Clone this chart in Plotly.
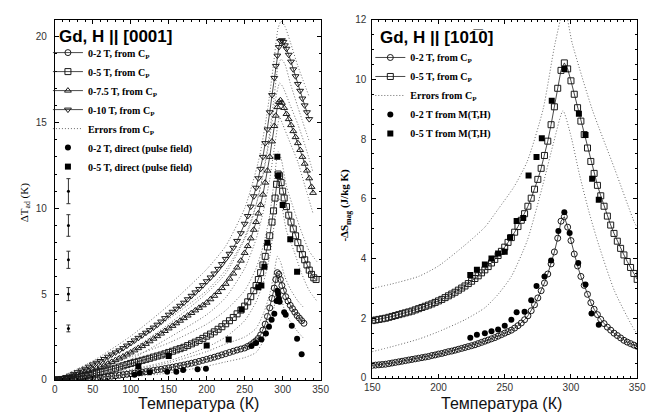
import plotly.graph_objects as go

W, H = 653, 419


def fx(p):
    """pixel column -> paper x"""
    return p / W


def fy(p):
    """pixel row -> paper y"""
    return 1 - p / H


# ------------------------------------------------------------------
# Left panel: adiabatic temperature change of Gd, H || [0001]
# ------------------------------------------------------------------
T_LOW = list(range(0, 251, 5))  # 0 ... 250 K

dT2_low = [0, 0.005, 0.01, 0.02, 0.03, 0.04, 0.05, 0.065, 0.08, 0.095,
           0.11, 0.13, 0.15, 0.17, 0.19, 0.215, 0.24, 0.27, 0.3, 0.33,
           0.36, 0.39, 0.42, 0.45, 0.48, 0.515, 0.55, 0.585, 0.62, 0.66,
           0.7, 0.74, 0.78, 0.825, 0.87, 0.92, 0.97, 1.02, 1.08, 1.14,
           1.2, 1.26, 1.32, 1.39, 1.46, 1.53, 1.6, 1.67, 1.74, 1.8,
           1.86]
T2_hi = [254, 258, 262, 265, 268, 271, 274, 277, 280, 283, 286, 289, 291, 293,
         295, 297, 299, 301, 304, 307, 310, 313, 316, 319, 322, 325, 328]
dT2_hi = [1.95, 2.05, 2.18, 2.28, 2.42, 2.62, 2.9, 3.25, 3.7, 4.2, 4.75, 5.35,
          5.85, 6.25, 6.15, 5.85, 5.5, 5.2, 4.85, 4.6, 4.35, 4.15, 3.95, 3.75,
          3.6, 3.45, 3.3]

dT5_low = [0, 0.01, 0.025, 0.05, 0.08, 0.11, 0.15, 0.2, 0.25, 0.3,
           0.35, 0.4, 0.45, 0.5, 0.56, 0.62, 0.68, 0.75, 0.82, 0.89,
           0.96, 1.02, 1.08, 1.14, 1.2, 1.26, 1.33, 1.39, 1.45, 1.52,
           1.6, 1.67, 1.75, 1.82, 1.9, 2.0, 2.1, 2.2, 2.3, 2.42,
           2.55, 2.67, 2.8, 2.95, 3.1, 3.27, 3.45, 3.64, 3.85, 4.07,
           4.3]
T5_hi = [254, 258, 262, 265, 268, 271, 274, 277, 280, 283, 286, 288, 290, 292,
         294, 296, 298, 300, 302, 305, 308, 311, 314, 317, 320, 323, 326, 329,
         332, 335, 338, 341, 344]
dT5_hi = [4.55, 4.85, 5.2, 5.5, 5.85, 6.25, 6.7, 7.2, 7.75, 8.4, 9.2, 9.85,
          10.6, 11.4, 12.0, 11.9, 11.5, 11.0, 10.6, 10.1, 9.6, 9.2, 8.8, 8.4,
          8.0, 7.65, 7.3, 7.0, 6.7, 6.4, 6.15, 5.95, 5.85]

dT75_low = [0, 0.02, 0.06, 0.1, 0.15, 0.22, 0.3, 0.37, 0.45, 0.52,
            0.6, 0.68, 0.76, 0.85, 0.95, 1.05, 1.15, 1.25, 1.36, 1.48,
            1.6, 1.72, 1.85, 1.97, 2.1, 2.25, 2.4, 2.55, 2.7, 2.85,
            3.0, 3.15, 3.3, 3.45, 3.6, 3.75, 3.9, 4.05, 4.2, 4.35,
            4.5, 4.7, 4.9, 5.12, 5.35, 5.6, 5.9, 6.2, 6.55, 6.95,
            7.4]
T75_hi = [254, 258, 262, 265, 268, 271, 274, 277, 280, 283, 286, 289, 291, 293,
          295, 297, 299, 302, 305, 308, 311, 314, 317, 320, 323, 326, 329, 332,
          335, 338, 340]
dT75_hi = [7.8, 8.25, 8.75, 9.2, 9.7, 10.2, 10.8, 11.5, 12.2, 13.0, 13.9, 14.8,
           15.4, 15.9, 16.2, 16.3, 16.15, 15.85, 15.5, 15.2, 14.85, 14.5, 14.15,
           13.8, 13.4, 13.0, 12.6, 12.2, 11.75, 11.25, 10.9]

dT10_low = [0, 0.04, 0.1, 0.17, 0.25, 0.35, 0.45, 0.55, 0.65, 0.77,
            0.9, 1.0, 1.1, 1.22, 1.35, 1.48, 1.6, 1.72, 1.85, 2.0,
            2.15, 2.3, 2.45, 2.6, 2.75, 2.9, 3.05, 3.22, 3.4, 3.6,
            3.8, 3.97, 4.15, 4.32, 4.5, 4.7, 4.9, 5.1, 5.3, 5.52,
            5.75, 5.97, 6.2, 6.47, 6.75, 7.05, 7.35, 7.7, 8.1, 8.55,
            9.1]
T10_hi = [254, 258, 262, 265, 268, 271, 274, 277, 280, 283, 286, 289, 291, 293,
          295, 297, 299, 301, 303, 305, 308, 311, 314, 317, 320, 323, 326, 329,
          332, 335]
dT10_hi = [9.55, 10.1, 10.7, 11.2, 11.75, 12.3, 13.0, 13.8, 14.6, 15.6, 16.6,
           17.6, 18.3, 18.9, 19.4, 19.75, 19.8, 19.7, 19.5, 19.3, 18.95, 18.55,
           18.1, 17.7, 17.25, 16.85, 16.4, 16.0, 15.6, 15.2]

# error envelopes of the Cp-derived curves
E2_T = [0, 50, 100, 150, 200, 225, 250, 265, 275, 283, 289, 293, 297, 303, 310, 320, 328]
E2_up = [0, 0.2, 0.55, 1.0, 1.65, 2.1, 2.5, 3.0, 3.9, 5.0, 6.3, 7.2, 6.9, 6.0, 5.3, 4.6, 4.2]
E2_lo = [0, 0.03, 0.18, 0.4, 0.8, 1.05, 1.3, 1.6, 2.3, 3.2, 4.3, 5.3, 4.9, 4.0, 3.4, 2.8, 2.4]

E5_T = [0, 50, 100, 150, 200, 225, 250, 265, 275, 283, 289, 294, 298, 305, 315, 325, 335, 345]
E5_up = [0, 0.55, 1.35, 2.15, 3.25, 4.05, 5.2, 6.5, 7.9, 9.6, 11.7, 13.3, 12.9, 11.3, 9.9, 8.6, 7.5, 6.9]
E5_lo = [0, 0.18, 0.6, 1.1, 1.9, 2.5, 3.45, 4.55, 5.75, 7.2, 9.1, 10.7, 10.3, 8.7, 7.5, 6.2, 5.2, 4.6]

E75_T = [0, 50, 100, 150, 200, 225, 250, 265, 275, 283, 290, 296, 300, 310, 320, 330, 340]
E75_up = [0, 0.8, 2.0, 3.55, 5.2, 6.4, 8.3, 10.2, 12.1, 14.1, 16.2, 17.3, 17.1, 16.0, 14.9, 13.6, 12.1]
E75_lo = [0, 0.4, 1.2, 2.45, 3.8, 4.8, 6.5, 8.2, 9.9, 11.7, 13.8, 15.3, 14.9, 13.8, 12.7, 11.2, 9.7]

E10_T = [0, 50, 100, 150, 200, 225, 250, 260, 270, 280, 288, 294, 298, 303, 310, 320, 335]
E10_up = [0, 1.1, 2.55, 4.35, 6.45, 7.8, 10.0, 11.4, 13.1, 15.7, 18.4, 20.5, 20.9, 20.6, 19.7, 18.3, 16.5]
E10_lo = [0, 0.7, 1.75, 3.25, 5.05, 6.2, 8.2, 9.4, 11.1, 13.5, 16.2, 18.3, 18.7, 18.4, 17.3, 15.9, 13.9]

# direct (pulse field) measurements
D2_T = [105, 112, 125, 148, 160, 169, 188, 199, 259, 265, 272, 278, 282, 285.5,
        289, 292, 293, 294, 295, 296, 302, 304, 312, 319, 325]
D2_dT = [0.3, 0.4, 0.45, 0.47, 0.47, 0.57, 0.62, 0.65, 1.98, 2.15, 2.36, 2.7,
         3.1, 3.5, 3.85, 4.6, 5.2, 5.0, 4.75, 4.55, 3.95, 3.8, 3.15, 2.4, 1.5]
D5_T = [110, 150, 200, 229, 246, 268, 272, 276, 280, 293, 294, 300, 310, 319]
D5_dT = [0.8, 1.4, 2.0, 2.36, 4.1, 5.4, 5.5, 6.6, 8.0, 13.0, 11.9, 10.2, 8.2, 6.3]

# typical error bars of the direct data
EB_T = [18, 18, 18, 18, 18]
EB_V = [11, 9, 7, 5, 3]
EB_E = [0.73, 0.63, 0.5, 0.38, 0.2]

# ------------------------------------------------------------------
# Right panel: magnetic entropy change of Gd, H || [10-10]
# ------------------------------------------------------------------
T_R = [150 + 2.5 * i for i in range(81)]  # 150 ... 350 K

S2_R = [0.42, 0.43, 0.44, 0.45, 0.46, 0.48, 0.5, 0.52, 0.54, 0.56,
        0.58, 0.6, 0.62, 0.64, 0.66, 0.68, 0.7, 0.72, 0.75, 0.77,
        0.8, 0.82, 0.85, 0.88, 0.9, 0.93, 0.96, 0.99, 1.02, 1.05,
        1.08, 1.11, 1.15, 1.19, 1.23, 1.27, 1.31, 1.35, 1.4, 1.45,
        1.5, 1.55, 1.6, 1.67, 1.75, 1.84, 1.95, 2.08, 2.25, 2.45,
        2.68, 2.92, 3.18, 3.48, 3.82, 4.22, 4.68, 5.25, 5.4, 5.05,
        4.6, 4.15, 3.75, 3.4, 3.1, 2.8, 2.52, 2.3, 2.12, 1.96,
        1.82, 1.7, 1.6, 1.5, 1.42, 1.34, 1.26, 1.2, 1.15, 1.1,
        1.06]
S5_R = [1.92, 1.94, 1.96, 1.98, 2.0, 2.03, 2.06, 2.09, 2.12, 2.15,
        2.18, 2.21, 2.24, 2.28, 2.32, 2.36, 2.4, 2.44, 2.48, 2.53,
        2.58, 2.63, 2.69, 2.75, 2.81, 2.87, 2.94, 3.01, 3.08, 3.16,
        3.24, 3.33, 3.42, 3.52, 3.62, 3.73, 3.85, 3.97, 4.1, 4.24,
        4.38, 4.54, 4.7, 4.88, 5.07, 5.28, 5.5, 5.75, 6.02, 6.32,
        6.65, 7.02, 7.45, 7.93, 8.48, 9.08, 9.7, 10.3, 10.55, 10.35,
        9.95, 9.5, 9.05, 8.6, 8.15, 7.7, 7.25, 6.85, 6.45, 6.1,
        5.75, 5.42, 5.12, 4.84, 4.58, 4.34, 4.12, 3.9, 3.7, 3.5,
        3.3]

ER_up_T = [150, 165, 185, 200, 220, 235, 245, 257, 267, 279, 288, 295, 301, 316, 333, 348, 350]
ER_up = [3.0, 3.15, 3.4, 3.75, 4.45, 5.05, 5.65, 6.4, 7.25, 9.0, 11.2, 12.4, 11.2, 9.0, 7.0, 5.2, 5.05]
ER_lo_T = [150, 165, 185, 200, 220, 235, 245, 255, 267, 279, 287, 294, 300, 306.5, 314, 321, 333, 348, 350]
ER_lo = [0.88, 1.05, 1.3, 1.55, 1.95, 2.35, 2.8, 3.4, 4.6, 6.5, 7.9, 8.95, 8.1, 6.8, 5.5, 4.45, 2.9, 1.6, 1.5]

M2_T = [224, 229, 235, 240, 245, 250, 255, 259, 265, 270, 274, 280, 285, 290.5,
        295, 299, 305.5, 311, 315.5, 321]
M2_S = [1.35, 1.45, 1.5, 1.56, 1.62, 1.75, 1.95, 2.2, 2.22, 2.6, 3.08, 3.4, 3.93,
        4.92, 5.55, 4.85, 3.85, 3.13, 2.16, 1.78]
M5_T = [224, 229, 235, 240, 245, 250, 254, 259, 264, 268, 274, 278, 285.5, 295,
        306, 311, 316, 321]
M5_S = [3.45, 3.62, 3.8, 4.0, 4.17, 4.23, 4.7, 5.26, 5.36, 6.78, 7.4, 8.03, 9.28,
        10.35, 8.85, 8.14, 6.67, 5.97]

# ------------------------------------------------------------------
INK = "#1a1a1a"
DOT = "#6a6a6a"
CP = "C<sub>P</sub>"

fig = go.Figure()


def err_line(x, y, xa, ya, legend, show, rank):
    fig.add_trace(go.Scatter(
        x=x, y=y, xaxis=xa, yaxis=ya, mode="lines",
        line=dict(color=DOT, width=1, dash="1px,2px", shape="spline", smoothing=0.6),
        name=f"<b>Errors from {CP}</b>", legend=legend, legendgroup=legend + "err",
        showlegend=show, legendrank=rank, hoverinfo="skip"))


# error envelopes (drawn first, underneath the data)
for i, (t, up, lo) in enumerate([(E2_T, E2_up, E2_lo), (E5_T, E5_up, E5_lo),
                                  (E75_T, E75_up, E75_lo), (E10_T, E10_up, E10_lo)]):
    err_line(t, up, "x", "y", "legend", i == 0, 5)
    err_line(t, lo, "x", "y", "legend", False, 5)

err_line(ER_up_T, ER_up, "x2", "y2", "legend2", True, 3)
err_line(ER_lo_T, ER_lo, "x2", "y2", "legend2", False, 3)


def cp_curve(x, y, xa, ya, symbol, size, label, legend, rank):
    fig.add_trace(go.Scatter(
        x=x, y=y, xaxis=xa, yaxis=ya, mode="lines+markers",
        line=dict(color=INK, width=0.8),
        marker=dict(symbol=symbol, size=size, color=INK, line=dict(width=1, color=INK)),
        name=f"<b>{label}</b>", legend=legend, legendrank=rank))


cp_curve(T_LOW + T2_hi, dT2_low + dT2_hi, "x", "y", "circle-open", 6,
         f"0-2 T, from {CP}", "legend", 1)
cp_curve(T_LOW + T5_hi, dT5_low + dT5_hi, "x", "y", "square-open", 6,
         f"0-5 T, from {CP}", "legend", 2)
cp_curve(T_LOW + T75_hi, dT75_low + dT75_hi, "x", "y", "triangle-up-open", 6,
         f"0-7.5 T, from {CP}", "legend", 3)
cp_curve(T_LOW + T10_hi, dT10_low + dT10_hi, "x", "y", "triangle-down-open", 6,
         f"0-10 T, from {CP}", "legend", 4)

cp_curve(T_R, S2_R, "x2", "y2", "circle-open", 6, f"0-2 T, from {CP}", "legend2", 1)
cp_curve(T_R, S5_R, "x2", "y2", "square-open", 6, f"0-5 T, from {CP}", "legend2", 2)


def filled(x, y, xa, ya, symbol, size, label, legend, rank):
    fig.add_trace(go.Scatter(
        x=x, y=y, xaxis=xa, yaxis=ya, mode="markers",
        marker=dict(symbol=symbol, size=size, color="black"),
        name=f"<b>{label}</b>", legend=legend, legendrank=rank))


filled(D2_T, D2_dT, "x", "y", "circle", 6, "0-2 T, direct (pulse field)", "legend", 6)
filled(D5_T, D5_dT, "x", "y", "square", 6, "0-5 T, direct (pulse field)", "legend", 7)
filled(M2_T, M2_S, "x2", "y2", "circle", 6, "0-2 T from M(T,H)", "legend2", 4)
filled(M5_T, M5_S, "x2", "y2", "square", 6, "0-5 T from M(T,H)", "legend2", 5)

# error-bar scale
fig.add_trace(go.Scatter(
    x=EB_T, y=EB_V, xaxis="x", yaxis="y", mode="markers",
    marker=dict(symbol="circle", size=3, color="black"),
    error_y=dict(type="data", array=EB_E, color="#333", thickness=1, width=2),
    showlegend=False, hoverinfo="skip"))

TICKFONT = dict(family="Liberation Sans", size=10, color="#333")
axis_common = dict(
    showline=True, linecolor="black", linewidth=1, mirror="allticks",
    ticks="inside", ticklen=4, tickwidth=1, tickcolor="black",
    showgrid=False, zeroline=False, tickfont=TICKFONT,
)

fig.update_layout(
    width=W, height=H, autosize=False,
    margin=dict(l=0, r=0, t=0, b=0),
    paper_bgcolor="white", plot_bgcolor="white",
    xaxis=dict(domain=[fx(48), fx(321)], range=[0, 350], anchor="y",
               tick0=0, dtick=50, ticklabelstandoff=0,
               minor=dict(ticks="inside", ticklen=2, dtick=10, tickcolor="black"),
               **axis_common),
    yaxis=dict(domain=[fy(385), fy(15)], range=[0, 21], anchor="x",
               tick0=0, dtick=5, ticklabelstandoff=5,
               minor=dict(ticks="inside", ticklen=2, dtick=1, tickcolor="black"),
               **axis_common),
    xaxis2=dict(domain=[fx(374), fx(646)], range=[150, 350], anchor="y2",
                tick0=150, dtick=50, ticklabelstandoff=0,
                minor=dict(ticks="inside", ticklen=2, dtick=5, tickcolor="black"),
                **axis_common),
    yaxis2=dict(domain=[fy(383), fy(15)], range=[0, 12], anchor="x2",
                tick0=0, dtick=2, ticklabelstandoff=3,
                minor=dict(ticks="inside", ticklen=2, dtick=0.5, tickcolor="black"),
                **axis_common),
    legend=dict(x=fx(41), y=fy(34), xanchor="left", yanchor="top",
                bgcolor="rgba(0,0,0,0)", itemwidth=30, tracegroupgap=0,
                font=dict(family="Liberation Serif", size=10, color="black")),
    legend2=dict(x=fx(372), y=fy(39), xanchor="left", yanchor="top",
                 bgcolor="rgba(0,0,0,0)", itemwidth=30, tracegroupgap=0,
                 font=dict(family="Liberation Serif", size=10, color="black")),
    showlegend=True,
)

TITLE = dict(family="Liberation Sans", size=17, color="black")
AXT = dict(family="Liberation Sans", size=16, color="#111")
YT = dict(family="Liberation Serif", size=11, color="black")

fig.add_annotation(x=fx(50), y=fy(32), xref="paper", yref="paper", showarrow=False,
                   xanchor="left", yanchor="middle", text="<b>Gd, H || [0001]</b>", font=TITLE)
fig.add_annotation(x=fx(380), y=fy(33), xref="paper", yref="paper", showarrow=False,
                   xanchor="left", yanchor="middle", text="<b>Gd, H || [101\u03050]</b>", font=TITLE)
fig.add_annotation(x=fx(196), y=0, xref="paper", yref="paper", showarrow=False,
                   xanchor="center", yanchor="bottom", borderpad=0,
                   text="Температура (К)", font=AXT)
fig.add_annotation(x=fx(507), y=0, xref="paper", yref="paper", showarrow=False,
                   xanchor="center", yanchor="bottom", borderpad=0,
                   text="Температура (К)", font=AXT)
fig.add_annotation(x=fx(17), y=fy(203), xref="paper", yref="paper", showarrow=False,
                   textangle=-90, xanchor="center", yanchor="middle",
                   text="ΔT<sub>ad</sub> (K)", font=YT)
fig.add_annotation(x=fx(346), y=fy(205), xref="paper", yref="paper", showarrow=False,
                   textangle=-90, xanchor="center", yanchor="middle",
                   text="<b>-ΔS<sub>mag</sub> (J/kg K)</b>", font=YT)

fig.write_html("out.html")
